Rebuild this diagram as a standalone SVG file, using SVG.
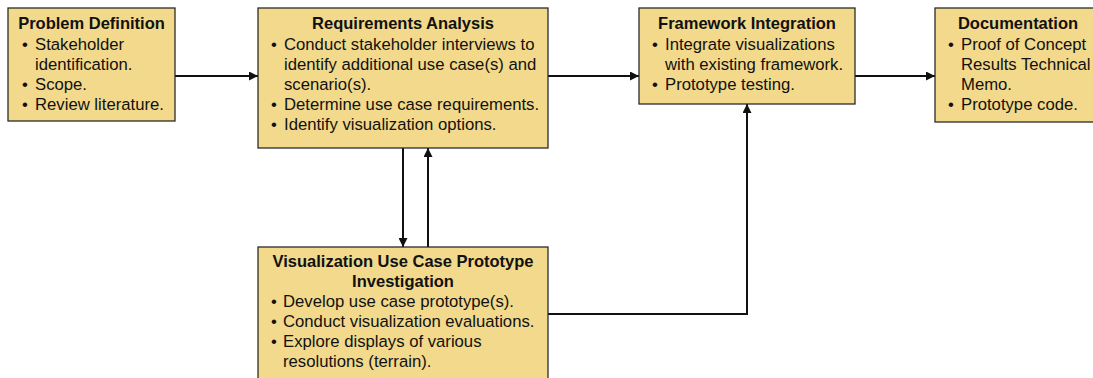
<svg xmlns="http://www.w3.org/2000/svg" width="1093" height="378" viewBox="0 0 1093 378">
<defs>
<style>
.box{fill:#F2D98B;stroke:#2b2b2b;stroke-width:1.3}
.t{font-family:"Liberation Sans",Arial,sans-serif;font-size:16.5px;font-weight:bold;fill:#111;text-anchor:middle}
.b{font-family:"Liberation Sans",Arial,sans-serif;font-size:16.7px;fill:#111}
.c{fill:none;stroke:#111;stroke-width:2}
</style>
<marker id="ah" viewBox="0 0 10 10" refX="10" refY="5" markerWidth="4.5" markerHeight="4.5" orient="auto" markerUnits="strokeWidth">
<path d="M0,0 L10,5 L0,10 z" fill="#111"/>
</marker>
</defs>
<rect width="1093" height="378" fill="#fff"/>
<g id="connectors">
<line class="c" x1="175" y1="76" x2="258" y2="76" marker-end="url(#ah)"/>
<line class="c" x1="548" y1="76" x2="639" y2="76" marker-end="url(#ah)"/>
<line class="c" x1="855" y1="76" x2="935" y2="76" marker-end="url(#ah)"/>
<line class="c" x1="403" y1="148" x2="403" y2="247" marker-end="url(#ah)"/>
<line class="c" x1="428" y1="247" x2="428" y2="148" marker-end="url(#ah)"/>
<polyline class="c" points="548,314 747,314 747,104" marker-end="url(#ah)"/>
</g>
<g id="problem-definition">
<rect class="box" x="8" y="8" width="167" height="113"/>
<text class="t" x="91.5" y="29">Problem Definition</text>
<text class="b"><tspan x="22" y="49.5">•</tspan><tspan x="35" y="49.5">Stakeholder</tspan><tspan x="35" y="70">identification.</tspan><tspan x="22" y="90">•</tspan><tspan x="35" y="90">Scope.</tspan><tspan x="22" y="110">•</tspan><tspan x="35" y="110">Review literature.</tspan></text>
</g>
<g id="requirements-analysis">
<rect class="box" x="258" y="8" width="290" height="140"/>
<text class="t" x="403" y="29">Requirements Analysis</text>
<text class="b"><tspan x="271" y="49.5">•</tspan><tspan x="284" y="49.5">Conduct stakeholder interviews to</tspan><tspan x="284" y="70">identify additional use case(s) and</tspan><tspan x="284" y="90">scenario(s).</tspan><tspan x="271" y="110">•</tspan><tspan x="284" y="110">Determine use case requirements.</tspan><tspan x="271" y="130">•</tspan><tspan x="284" y="130">Identify visualization options.</tspan></text>
</g>
<g id="framework-integration">
<rect class="box" x="639" y="8" width="216" height="96"/>
<text class="t" x="747" y="29">Framework Integration</text>
<text class="b"><tspan x="652" y="49.5">•</tspan><tspan x="665" y="49.5">Integrate visualizations</tspan><tspan x="665" y="70">with existing framework.</tspan><tspan x="652" y="90">•</tspan><tspan x="665" y="90">Prototype testing.</tspan></text>
</g>
<g id="documentation">
<rect class="box" x="935" y="8" width="166" height="114"/>
<text class="t" x="1018" y="29">Documentation</text>
<text class="b"><tspan x="948" y="49.5">•</tspan><tspan x="961" y="49.5">Proof of Concept</tspan><tspan x="961" y="70">Results Technical</tspan><tspan x="961" y="90">Memo.</tspan><tspan x="948" y="110">•</tspan><tspan x="961" y="110">Prototype code.</tspan></text>
</g>
<g id="visualization-prototype">
<rect class="box" x="258" y="247" width="290" height="140"/>
<text class="t"><tspan x="403" y="267">Visualization Use Case Prototype</tspan><tspan x="403" y="287">Investigation</tspan></text>
<text class="b"><tspan x="271" y="307">•</tspan><tspan x="283" y="307">Develop use case prototype(s).</tspan><tspan x="271" y="327">•</tspan><tspan x="283" y="327">Conduct visualization evaluations.</tspan><tspan x="271" y="347">•</tspan><tspan x="283" y="347">Explore displays of various</tspan><tspan x="283" y="367">resolutions (terrain).</tspan></text>
</g>
</svg>
